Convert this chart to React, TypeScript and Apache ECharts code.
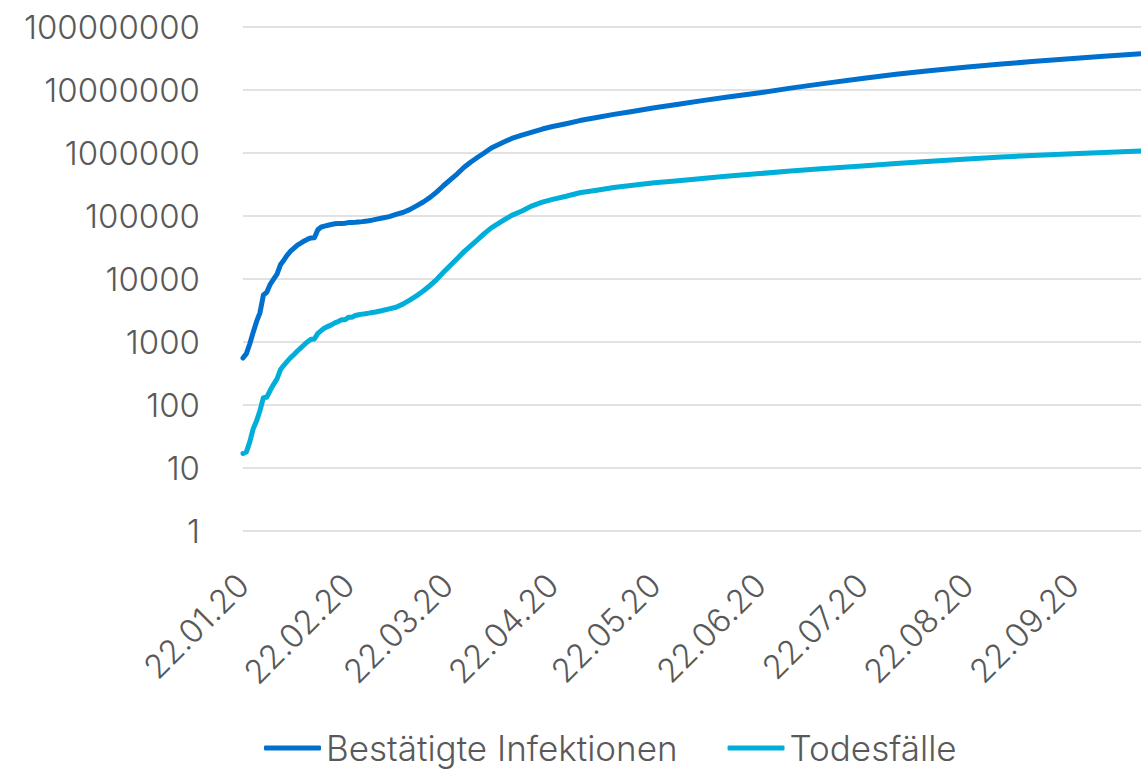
import React, { useEffect, useRef } from "react";
import * as echarts from "echarts";

const dates: string[] = [
  "2020-01-22", "2020-01-23", "2020-01-24", "2020-01-25", "2020-01-26", "2020-01-27", "2020-01-28", "2020-01-29", "2020-01-30", "2020-01-31",
  "2020-02-01", "2020-02-02", "2020-02-03", "2020-02-04", "2020-02-05", "2020-02-06", "2020-02-07", "2020-02-08", "2020-02-09", "2020-02-10",
  "2020-02-11", "2020-02-12", "2020-02-13", "2020-02-14", "2020-02-15", "2020-02-16", "2020-02-17", "2020-02-18", "2020-02-19", "2020-02-20",
  "2020-02-21", "2020-02-22", "2020-02-23", "2020-02-24", "2020-02-25", "2020-02-26", "2020-02-27", "2020-02-28", "2020-02-29", "2020-03-01",
  "2020-03-03", "2020-03-05", "2020-03-07", "2020-03-09", "2020-03-11", "2020-03-13", "2020-03-15", "2020-03-17", "2020-03-19", "2020-03-21",
  "2020-03-23", "2020-03-25", "2020-03-27", "2020-03-29", "2020-03-31", "2020-04-02", "2020-04-04", "2020-04-06", "2020-04-08", "2020-04-10",
  "2020-04-13", "2020-04-16", "2020-04-19", "2020-04-22", "2020-04-26", "2020-04-30", "2020-05-05", "2020-05-10", "2020-05-15", "2020-05-22",
  "2020-05-29", "2020-06-05", "2020-06-12", "2020-06-22", "2020-07-01", "2020-07-10", "2020-07-22", "2020-08-01", "2020-08-10", "2020-08-22",
  "2020-09-01", "2020-09-10", "2020-09-22", "2020-10-01", "2020-10-12",
];

const confirmed: number[] = [
  555, 654, 940, 1430, 2120, 2930, 5580, 6170, 8230, 9930,
  12000, 16800, 19900, 23900, 27600, 30800, 34400, 37100, 40200, 42800,
  44800, 45200, 60400, 66900, 69000, 71200, 73300, 75200, 75700, 76200,
  76800, 78600, 79000, 79500, 80400, 81400, 82700, 84100, 86000, 88400,
  92800, 97900, 105800, 113600, 126200, 145000, 167000, 197000, 242000, 305000,
  378000, 468000, 593000, 721000, 857000, 1010000, 1200000, 1350000, 1520000, 1700000,
  1920000, 2150000, 2400000, 2630000, 2920000, 3270000, 3660000, 4100000, 4530000, 5210000,
  5940000, 6780000, 7650000, 9060000, 10700000, 12500000, 15200000, 17800000, 20100000, 23200000,
  25800000, 28300000, 31700000, 34300000, 37600000,
];

const deaths: number[] = [
  17, 18, 26, 42, 56, 82, 131, 133, 171, 213,
  259, 362, 426, 492, 564, 634, 719, 806, 906, 1010,
  1110, 1120, 1370, 1520, 1670, 1770, 1870, 2010, 2120, 2250,
  2250, 2460, 2470, 2630, 2710, 2770, 2810, 2870, 2940, 3000,
  3160, 3350, 3560, 3990, 4620, 5400, 6440, 7900, 9900, 12900,
  16500, 21200, 27200, 34000, 42100, 53000, 64700, 75400, 88400, 102500,
  120000, 145000, 166000, 184000, 206000, 234000, 257000, 283000, 304000, 337000,
  363000, 395000, 426000, 472000, 518000, 563000, 624000, 683000, 734000, 804000,
  862000, 910000, 973000, 1020000, 1080000,
];

const seriesNames: string[] = ["Bestätigte Infektionen", "Todesfälle"];
const yTickLabels: string[] = ["1", "10", "100", "1000", "10000", "100000", "1000000", "10000000", "100000000"];
const xTickDates: string[] = [
  "2020-01-22", "2020-02-22", "2020-03-22", "2020-04-22", "2020-05-22",
  "2020-06-22", "2020-07-22", "2020-08-22", "2020-09-22",
];
const startDate = "2020-01-22";
const endDate = "2020-10-12";

const FONT = "Inter, Roboto, 'Liberation Sans', Arial, sans-serif";
const TEXT_COLOR = "#595959";
const DAY = 86400000;

function dayIndex(s: string): number {
  const [y, m, d] = s.split("-").map(Number);
  const [y0, m0, d0] = startDate.split("-").map(Number);
  return Math.round((Date.UTC(y, m - 1, d) - Date.UTC(y0, m0 - 1, d0)) / DAY);
}

function fmtDay(idx: number): string {
  const [y0, m0, d0] = startDate.split("-").map(Number);
  const dt = new Date(Date.UTC(y0, m0 - 1, d0) + Math.round(idx) * DAY);
  const pad = (n: number) => (n < 10 ? "0" + n : "" + n);
  return pad(dt.getUTCDate()) + "." + pad(dt.getUTCMonth() + 1) + "." + String(dt.getUTCFullYear()).slice(2);
}

export default function App() {
  const ref = useRef<HTMLDivElement>(null);

  useEffect(() => {
    if (!ref.current) return;
    const chart = echarts.init(ref.current, null, { renderer: "svg" });
    const labelValues = xTickDates.map(dayIndex);

    chart.setOption({
      animation: false,
      backgroundColor: "#ffffff",
      grid: { left: 243, right: 0, top: 27, bottom: 238, containLabel: false },
      legend: {
        data: seriesNames,
        left: 264,
        top: 728,
        padding: 0,
        icon: "roundRect",
        itemWidth: 57,
        itemHeight: 5,
        itemGap: 50,
        textStyle: { fontFamily: FONT, fontWeight: 300, fontSize: 35, lineHeight: 40, color: TEXT_COLOR },
      },
      xAxis: {
        type: "value",
        min: 0,
        max: dayIndex(endDate),
        axisLine: { show: false },
        axisTick: { show: false },
        splitLine: { show: false },
        axisLabel: {
          customValues: labelValues,
          rotate: 45,
          margin: 48,
          fontFamily: FONT,
          fontWeight: 300,
          fontSize: 33,
          color: TEXT_COLOR,
          hideOverlap: false,
          showMinLabel: true,
          showMaxLabel: true,
          formatter: (v: number) => fmtDay(v),
        },
      },
      yAxis: {
        type: "log",
        logBase: 10,
        min: 1,
        max: 100000000,
        axisLine: { show: false },
        axisTick: { show: false },
        splitLine: { show: true, lineStyle: { color: "#d9d9d9", width: 1.5 } },
        axisLabel: {
          margin: 43,
          fontFamily: FONT,
          fontWeight: 300,
          fontSize: 33,
          color: TEXT_COLOR,
          formatter: (v: number) => {
            const idx = Math.round(Math.log10(v));
            return yTickLabels[idx] ?? String(v);
          },
        },
      },
      series: [
        {
          name: seriesNames[0],
          type: "line",
          symbol: "none",
          color: "#0070CE",
          lineStyle: { width: 5, color: "#0070CE", cap: "round", join: "round" },
          data: dates.map((d, i) => [dayIndex(d), confirmed[i]]),
        },
        {
          name: seriesNames[1],
          type: "line",
          symbol: "none",
          color: "#00AEDA",
          lineStyle: { width: 5, color: "#00AEDA", cap: "round", join: "round" },
          data: dates.map((d, i) => [dayIndex(d), deaths[i]]),
        },
      ],
    });

    return () => chart.dispose();
  }, []);

  return (
    <div
      ref={ref}
      style={{ position: "absolute", left: 0, top: 0, width: 1141, height: 769 }}
    />
  );
}
